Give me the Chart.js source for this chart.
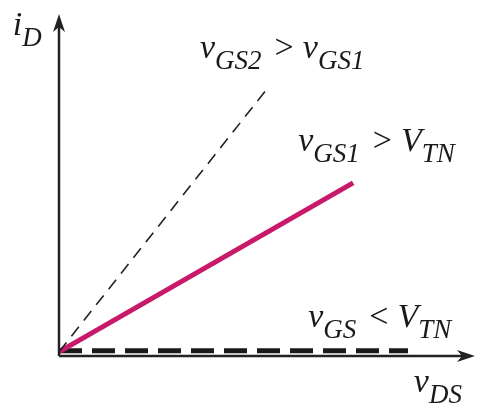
<!DOCTYPE html>
<html>
<head>
<meta charset="utf-8">
<script src="https://cdn.jsdelivr.net/npm/chart.js@4/dist/chart.umd.min.js"></script>
<style>
  html, body { margin: 0; padding: 0; background: #fff; }
  #wrap { width: 477px; height: 403px; }
</style>
</head>
<body>
<div id="wrap"><canvas id="ivCanvas"></canvas></div>
<script>
// i_D vs v_DS characteristic, arbitrary units (0..10 on both axes)
const steepLine = [{x: 0, y: 0.12}, {x: 5.02, y: 7.84}];   // vGS2 > vGS1
const mainLine = [{x: 0, y: 0.12}, {x: 7.07, y: 5.06}];    // vGS1 > VTN
const cutoffLine = [{x: 0, y: 0.15}, {x: 8.39, y: 0.15}];  // vGS < VTN
const axisMax = {x: 10, y: 10};

// each label: anchor (baseline) in data units, then [text, style] runs
// style: 'i' italic, 's' italic subscript, 'r' upright relation sign
const labels = [
  {x: 3.39, y: 8.71, runs: [['v', 'i'], ['GS2', 's'], ['>', 'r'], ['v', 'i'], ['GS1', 's']]},
  {x: 5.75, y: 5.99, runs: [['v', 'i'], ['GS1', 's'], ['>', 'r'], ['V', 'i'], ['TN', 's']]},
  {x: 5.99, y: 0.85, runs: [['v', 'i'], ['GS', 's'], ['<', 'r'], ['V', 'i'], ['TN', 's']]},
  {x: 8.53, y: -1.05, runs: [['v', 'i'], ['DS', 's']]},
  {x: -1.11, y: 9.39, runs: [['i', 'i'], ['D', 's']]}
];

const fonts = {
  i: 'italic 34px "Liberation Serif", "DejaVu Serif", serif',
  s: 'italic 27px "Liberation Serif", "DejaVu Serif", serif',
  r: '34px "Liberation Serif", "DejaVu Serif", serif'
};
const relGap = 13;

function arrowHead(ctx, x, y, dir) {
  ctx.beginPath();
  if (dir === 'up') {
    ctx.moveTo(x, y);
    ctx.lineTo(x - 6, y + 18);
    ctx.lineTo(x, y + 13);
    ctx.lineTo(x + 6, y + 18);
  } else {
    ctx.moveTo(x, y);
    ctx.lineTo(x - 18, y - 6);
    ctx.lineTo(x - 13, y);
    ctx.lineTo(x - 18, y + 6);
  }
  ctx.closePath();
  ctx.fill();
}

const axesAndText = {
  id: 'axesAndText',
  afterDatasetsDraw(chart) {
    const ctx = chart.ctx;
    const xs = chart.scales.x, ys = chart.scales.y;
    const x0 = xs.getPixelForValue(0), y0 = ys.getPixelForValue(0);
    const xEnd = xs.getPixelForValue(axisMax.x), yEnd = ys.getPixelForValue(axisMax.y);
    ctx.save();
    ctx.strokeStyle = '#222';
    ctx.fillStyle = '#222';
    ctx.lineWidth = 2.5;
    ctx.beginPath();
    ctx.moveTo(x0, y0);
    ctx.lineTo(x0, yEnd + 10);
    ctx.moveTo(x0, y0);
    ctx.lineTo(xEnd - 10, y0);
    ctx.stroke();
    arrowHead(ctx, x0, yEnd, 'up');
    arrowHead(ctx, xEnd, y0, 'right');

    ctx.fillStyle = '#1a1a1a';
    ctx.textBaseline = 'alphabetic';
    labels.forEach(l => {
      let px = xs.getPixelForValue(l.x);
      const py = ys.getPixelForValue(l.y);
      l.runs.forEach(([txt, style]) => {
        ctx.font = fonts[style];
        if (style === 'r') px += relGap;
        ctx.fillText(txt, px, style === 's' ? py + 11 : py);
        px += ctx.measureText(txt).width;
        if (style === 'r') px += relGap - 4;
      });
    });
    ctx.restore();
  }
};

new Chart(document.getElementById('ivCanvas'), {
  type: 'scatter',
  data: {
    datasets: [
      {data: steepLine, showLine: true, borderColor: '#222', borderWidth: 1.6, borderDash: [12, 8], pointRadius: 0},
      {data: mainLine, showLine: true, borderColor: '#c8196a', borderWidth: 5, pointRadius: 0},
      {data: cutoffLine, showLine: true, borderColor: '#1a1a1a', borderWidth: 5, borderDash: [23, 10], pointRadius: 0}
    ]
  },
  options: {
    responsive: true,
    maintainAspectRatio: false,
    animation: false,
    layout: {padding: {left: 59, right: 2, top: 14, bottom: 47}},
    plugins: {legend: {display: false}, tooltip: {enabled: false}},
    scales: {
      x: {type: 'linear', min: 0, max: axisMax.x, display: false},
      y: {type: 'linear', min: 0, max: axisMax.y, display: false}
    }
  },
  plugins: [axesAndText]
});
</script>
</body>
</html>
